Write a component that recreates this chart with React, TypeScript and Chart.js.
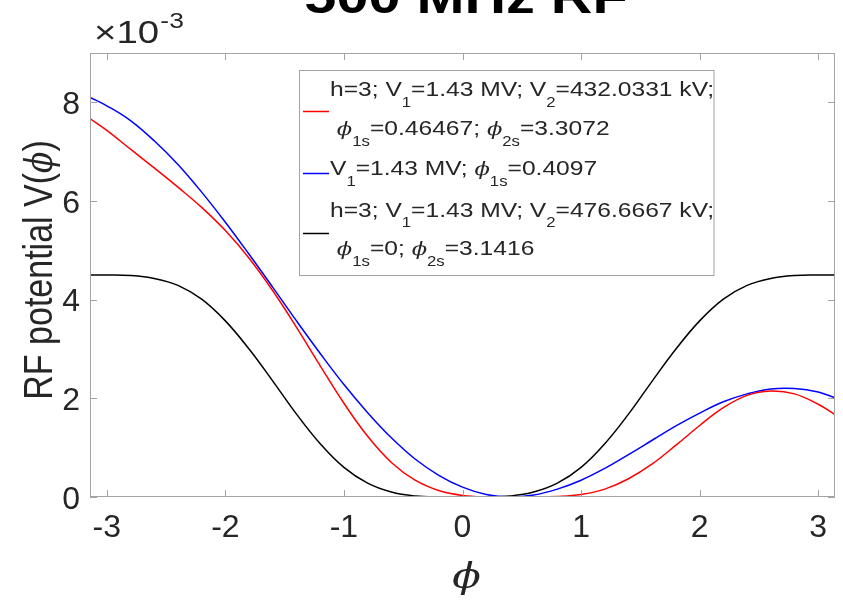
import React, { useEffect, useRef } from "react";
import { Chart, registerables } from "chart.js";

Chart.register(...registerables);

// ---------------- data (potential in units of 1e-3) ----------------
const phi = [
  -3.1416, -3.0, -2.8, -2.6, -2.4, -2.2, -2.0, -1.8, -1.6, -1.4, -1.2, -1.0, -0.8, -0.6, -0.4, -0.2,
  0.0, 0.2, 0.4, 0.6, 0.8, 1.0, 1.2, 1.4, 1.6, 1.8, 2.0, 2.2, 2.4, 2.6, 2.8, 3.0, 3.1416,
];
const vRed = [
  7.67, 7.43, 7.05, 6.67, 6.28, 5.87, 5.4, 4.84, 4.18, 3.44, 2.66, 1.9, 1.23, 0.7, 0.34, 0.13,
  0.03, 0.0, 0.0, 0.0, 0.01, 0.05, 0.16, 0.37, 0.67, 1.05, 1.45, 1.81, 2.06, 2.15, 2.09, 1.88, 1.67,
];
const vBlue = [
  8.1, 7.93, 7.63, 7.22, 6.74, 6.18, 5.57, 4.92, 4.25, 3.57, 2.91, 2.28, 1.71, 1.2, 0.77, 0.44,
  0.2, 0.05, 0.0, 0.04, 0.16, 0.34, 0.58, 0.86, 1.15, 1.44, 1.7, 1.93, 2.09, 2.19, 2.2, 2.13, 2.01,
];
const vBlack = [
  4.5, 4.5, 4.49, 4.43, 4.29, 4.01, 3.57, 3.0, 2.35, 1.68, 1.08, 0.6, 0.28, 0.1, 0.02, 0.0,
  0.0, 0.0, 0.02, 0.1, 0.28, 0.6, 1.08, 1.68, 2.35, 3.0, 3.57, 4.01, 4.29, 4.43, 4.49, 4.5, 4.5,
];
const xTickValues = [-3, -2, -1, 0, 1, 2, 3];
const yTickValues = [0, 2, 4, 6, 8];
const X_MIN = -3.1416;
const X_MAX = 3.1416;
const Y_MIN = 0;
const Y_MAX = 9;

const seriesColors = ["#ff0000", "#0000ff", "#000000"];
const titleText = "500 MHz RF";
const exponentBase = "×10";
const exponentPower = "-3";

type Seg = [string, "n" | "s" | "p"];
const yTitleSegs: Seg[] = [["RF potential V(", "n"], ["ϕ", "p"], [")", "n"]];
const xTitleSegs: Seg[] = [["ϕ", "p"]];

const legendEntries: { lines: Seg[][] }[] = [
  {
    lines: [
      [["h=3; V", "n"], ["1", "s"], ["=1.43 MV; V", "n"], ["2", "s"], ["=432.0331 kV;", "n"]],
      [[" ", "n"], ["ϕ", "p"], ["1s", "s"], ["=0.46467; ", "n"], ["ϕ", "p"], ["2s", "s"], ["=3.3072", "n"]],
    ],
  },
  {
    lines: [[["V", "n"], ["1", "s"], ["=1.43 MV; ", "n"], ["ϕ", "p"], ["1s", "s"], ["=0.4097", "n"]]],
  },
  {
    lines: [
      [["h=3; V", "n"], ["1", "s"], ["=1.43 MV; V", "n"], ["2", "s"], ["=476.6667 kV;", "n"]],
      [[" ", "n"], ["ϕ", "p"], ["1s", "s"], ["=0; ", "n"], ["ϕ", "p"], ["2s", "s"], ["=3.1416", "n"]],
    ],
  },
];
const seriesLabels = ["h=3 double RF (φ1s=0.46467)", "single RF", "h=3 double RF (φ1s=0)"];

// ---------------- styling ----------------
const SANS = '"Liberation Sans", Arial, Helvetica, sans-serif';
const SX = 1.2; // horizontal stretch of the original rendering
const TEXT_COLOR = "#262626";
const AXIS_COLOR = "#a3a3a3";

function segFont(kind: string, size: number) {
  if (kind === "p") return `italic ${size * 0.92}px "DejaVu Serif", "Liberation Serif", serif`;
  if (kind === "s") return `${size * 0.68}px ${SANS}`;
  return `${size}px ${SANS}`;
}

function segsWidth(ctx: CanvasRenderingContext2D, segs: Seg[], size: number) {
  let w = 0;
  for (const [t, k] of segs) {
    ctx.font = segFont(k, size);
    w += ctx.measureText(t).width;
  }
  return w;
}

// draws at local origin (already transformed), baseline y=0
function drawSegs(ctx: CanvasRenderingContext2D, segs: Seg[], size: number, x0: number) {
  let x = x0;
  ctx.textAlign = "left";
  ctx.textBaseline = "alphabetic";
  for (const [t, k] of segs) {
    ctx.font = segFont(k, size);
    const dy = k === "s" ? size * 0.52 : 0;
    ctx.fillText(t, x, dy);
    x += ctx.measureText(t).width;
  }
  return x;
}

function drawRich(ctx: CanvasRenderingContext2D, segs: Seg[], size: number, x: number, y: number) {
  ctx.save();
  ctx.translate(x, y);
  ctx.scale(SX, 1);
  drawSegs(ctx, segs, size, 0);
  ctx.restore();
}

const overlayPlugin = {
  id: "matlabOverlay",
  afterDraw(chart: any) {
    const { ctx, chartArea: a, scales } = chart;
    const xs = scales.x;
    const ys = scales.y;
    ctx.save();

    // axes box
    ctx.strokeStyle = AXIS_COLOR;
    ctx.lineWidth = 1;
    ctx.strokeRect(a.left + 0.5, a.top + 0.5, a.right - a.left - 1, a.bottom - a.top - 1);

    // inward tick marks on all four sides
    const TL = 7;
    ctx.beginPath();
    for (const v of xTickValues) {
      const px = Math.round(xs.getPixelForValue(v)) + 0.5;
      ctx.moveTo(px, a.bottom);
      ctx.lineTo(px, a.bottom - TL);
      ctx.moveTo(px, a.top);
      ctx.lineTo(px, a.top + TL);
    }
    for (const v of yTickValues) {
      const py = Math.round(ys.getPixelForValue(v)) + 0.5;
      ctx.moveTo(a.left, py);
      ctx.lineTo(a.left + TL, py);
      ctx.moveTo(a.right, py);
      ctx.lineTo(a.right - TL, py);
    }
    ctx.stroke();

    ctx.fillStyle = TEXT_COLOR;

    // exponent label
    ctx.save();
    ctx.translate(94, 43);
    ctx.scale(SX, 1);
    ctx.font = `32px ${SANS}`;
    ctx.textAlign = "left";
    ctx.textBaseline = "alphabetic";
    ctx.fillText(exponentBase, 0, 0);
    const bw = ctx.measureText(exponentBase).width;
    ctx.font = `22px ${SANS}`;
    ctx.fillText(exponentPower, bw + 1, -15);
    ctx.restore();

    // title (top clipped by the canvas edge, as in the original)
    ctx.save();
    ctx.fillStyle = "#000000";
    ctx.translate(466, 13);
    ctx.scale(SX, 1);
    ctx.font = `bold 48px ${SANS}`;
    ctx.textAlign = "center";
    ctx.textBaseline = "alphabetic";
    ctx.fillText(titleText, 0, 0);
    ctx.restore();

    // y-axis title (rotated)
    ctx.save();
    ctx.translate(51.5, (a.top + a.bottom) / 2 - 5);
    ctx.scale(SX, 1);
    ctx.rotate(-Math.PI / 2);
    const yw = segsWidth(ctx, yTitleSegs, 34);
    drawSegs(ctx, yTitleSegs, 34, -yw / 2);
    ctx.restore();

    // x-axis title
    ctx.save();
    ctx.translate((a.left + a.right) / 2 + 4, 588);
    ctx.scale(SX, 1);
    const xw = segsWidth(ctx, xTitleSegs, 38);
    drawSegs(ctx, xTitleSegs, 38, -xw / 2);
    ctx.restore();

    // legend
    const LX = 299.5, LY = 70.5, LW = 414.5, LH = 205;
    ctx.fillStyle = "#ffffff";
    ctx.fillRect(LX, LY, LW, LH);
    ctx.strokeStyle = AXIS_COLOR;
    ctx.strokeRect(LX, LY, LW, LH);

    const sampleY = [111.5, 173.5, 233.5];
    const lineBaselines = [[96, 135], [175], [216.5, 255]];
    ctx.lineWidth = 1.5;
    legendEntries.forEach((e, i) => {
      ctx.strokeStyle = seriesColors[i];
      ctx.beginPath();
      ctx.moveTo(303, sampleY[i]);
      ctx.lineTo(329, sampleY[i]);
      ctx.stroke();
      ctx.fillStyle = TEXT_COLOR;
      e.lines.forEach((segs, j) => {
        drawRich(ctx, segs, 20.5, 330, lineBaselines[i][j]);
      });
    });

    ctx.restore();
  },
};

export default function App() {
  const canvasRef = useRef<HTMLCanvasElement | null>(null);

  useEffect(() => {
    const canvas = canvasRef.current;
    if (!canvas) return;
    const series = [vRed, vBlue, vBlack];
    const chart = new Chart(canvas, {
      type: "line",
      data: {
        datasets: series.map((vals, i) => ({
          label: seriesLabels[i],
          data: phi.map((x, k) => ({ x, y: vals[k] })),
          borderColor: seriesColors[i],
          backgroundColor: seriesColors[i],
          borderWidth: 1.5,
          pointRadius: 0,
          pointHoverRadius: 0,
          fill: false,
          tension: 0.4,
        })),
      },
      options: {
        responsive: false,
        animation: false,
        devicePixelRatio: 1,
        events: [],
        layout: { padding: { top: 53, right: 8, left: 0, bottom: 0 } },
        plugins: {
          legend: { display: false },
          tooltip: { enabled: false },
          title: { display: false },
        },
        scales: {
          x: {
            type: "linear",
            min: X_MIN,
            max: X_MAX,
            grid: { display: false, drawTicks: false },
            border: { display: false },
            afterBuildTicks: (s: any) => {
              s.ticks = xTickValues.map((v) => ({ value: v }));
            },
            afterFit: (s: any) => {
              s.height = 103;
            },
            ticks: {
              font: { family: SANS, size: 32 },
              color: TEXT_COLOR,
              padding: 12,
              maxRotation: 0,
              autoSkip: false,
              callback: (v: any) => String(v),
            },
          },
          y: {
            type: "linear",
            min: Y_MIN,
            max: Y_MAX,
            grid: { display: false, drawTicks: false },
            border: { display: false },
            afterBuildTicks: (s: any) => {
              s.ticks = yTickValues.map((v) => ({ value: v }));
            },
            afterFit: (s: any) => {
              s.width = 90;
            },
            ticks: {
              font: { family: SANS, size: 32 },
              color: TEXT_COLOR,
              padding: 10,
              labelOffset: 3,
              autoSkip: false,
              callback: (v: any) => String(v),
            },
          },
        },
      },
      plugins: [overlayPlugin],
    });
    return () => chart.destroy();
  }, []);

  return (
    <div style={{ position: "absolute", left: 0, top: 0, width: 843, height: 600, background: "#ffffff" }}>
      <canvas ref={canvasRef} width={843} height={600} style={{ width: 843, height: 600, display: "block" }} />
    </div>
  );
}
